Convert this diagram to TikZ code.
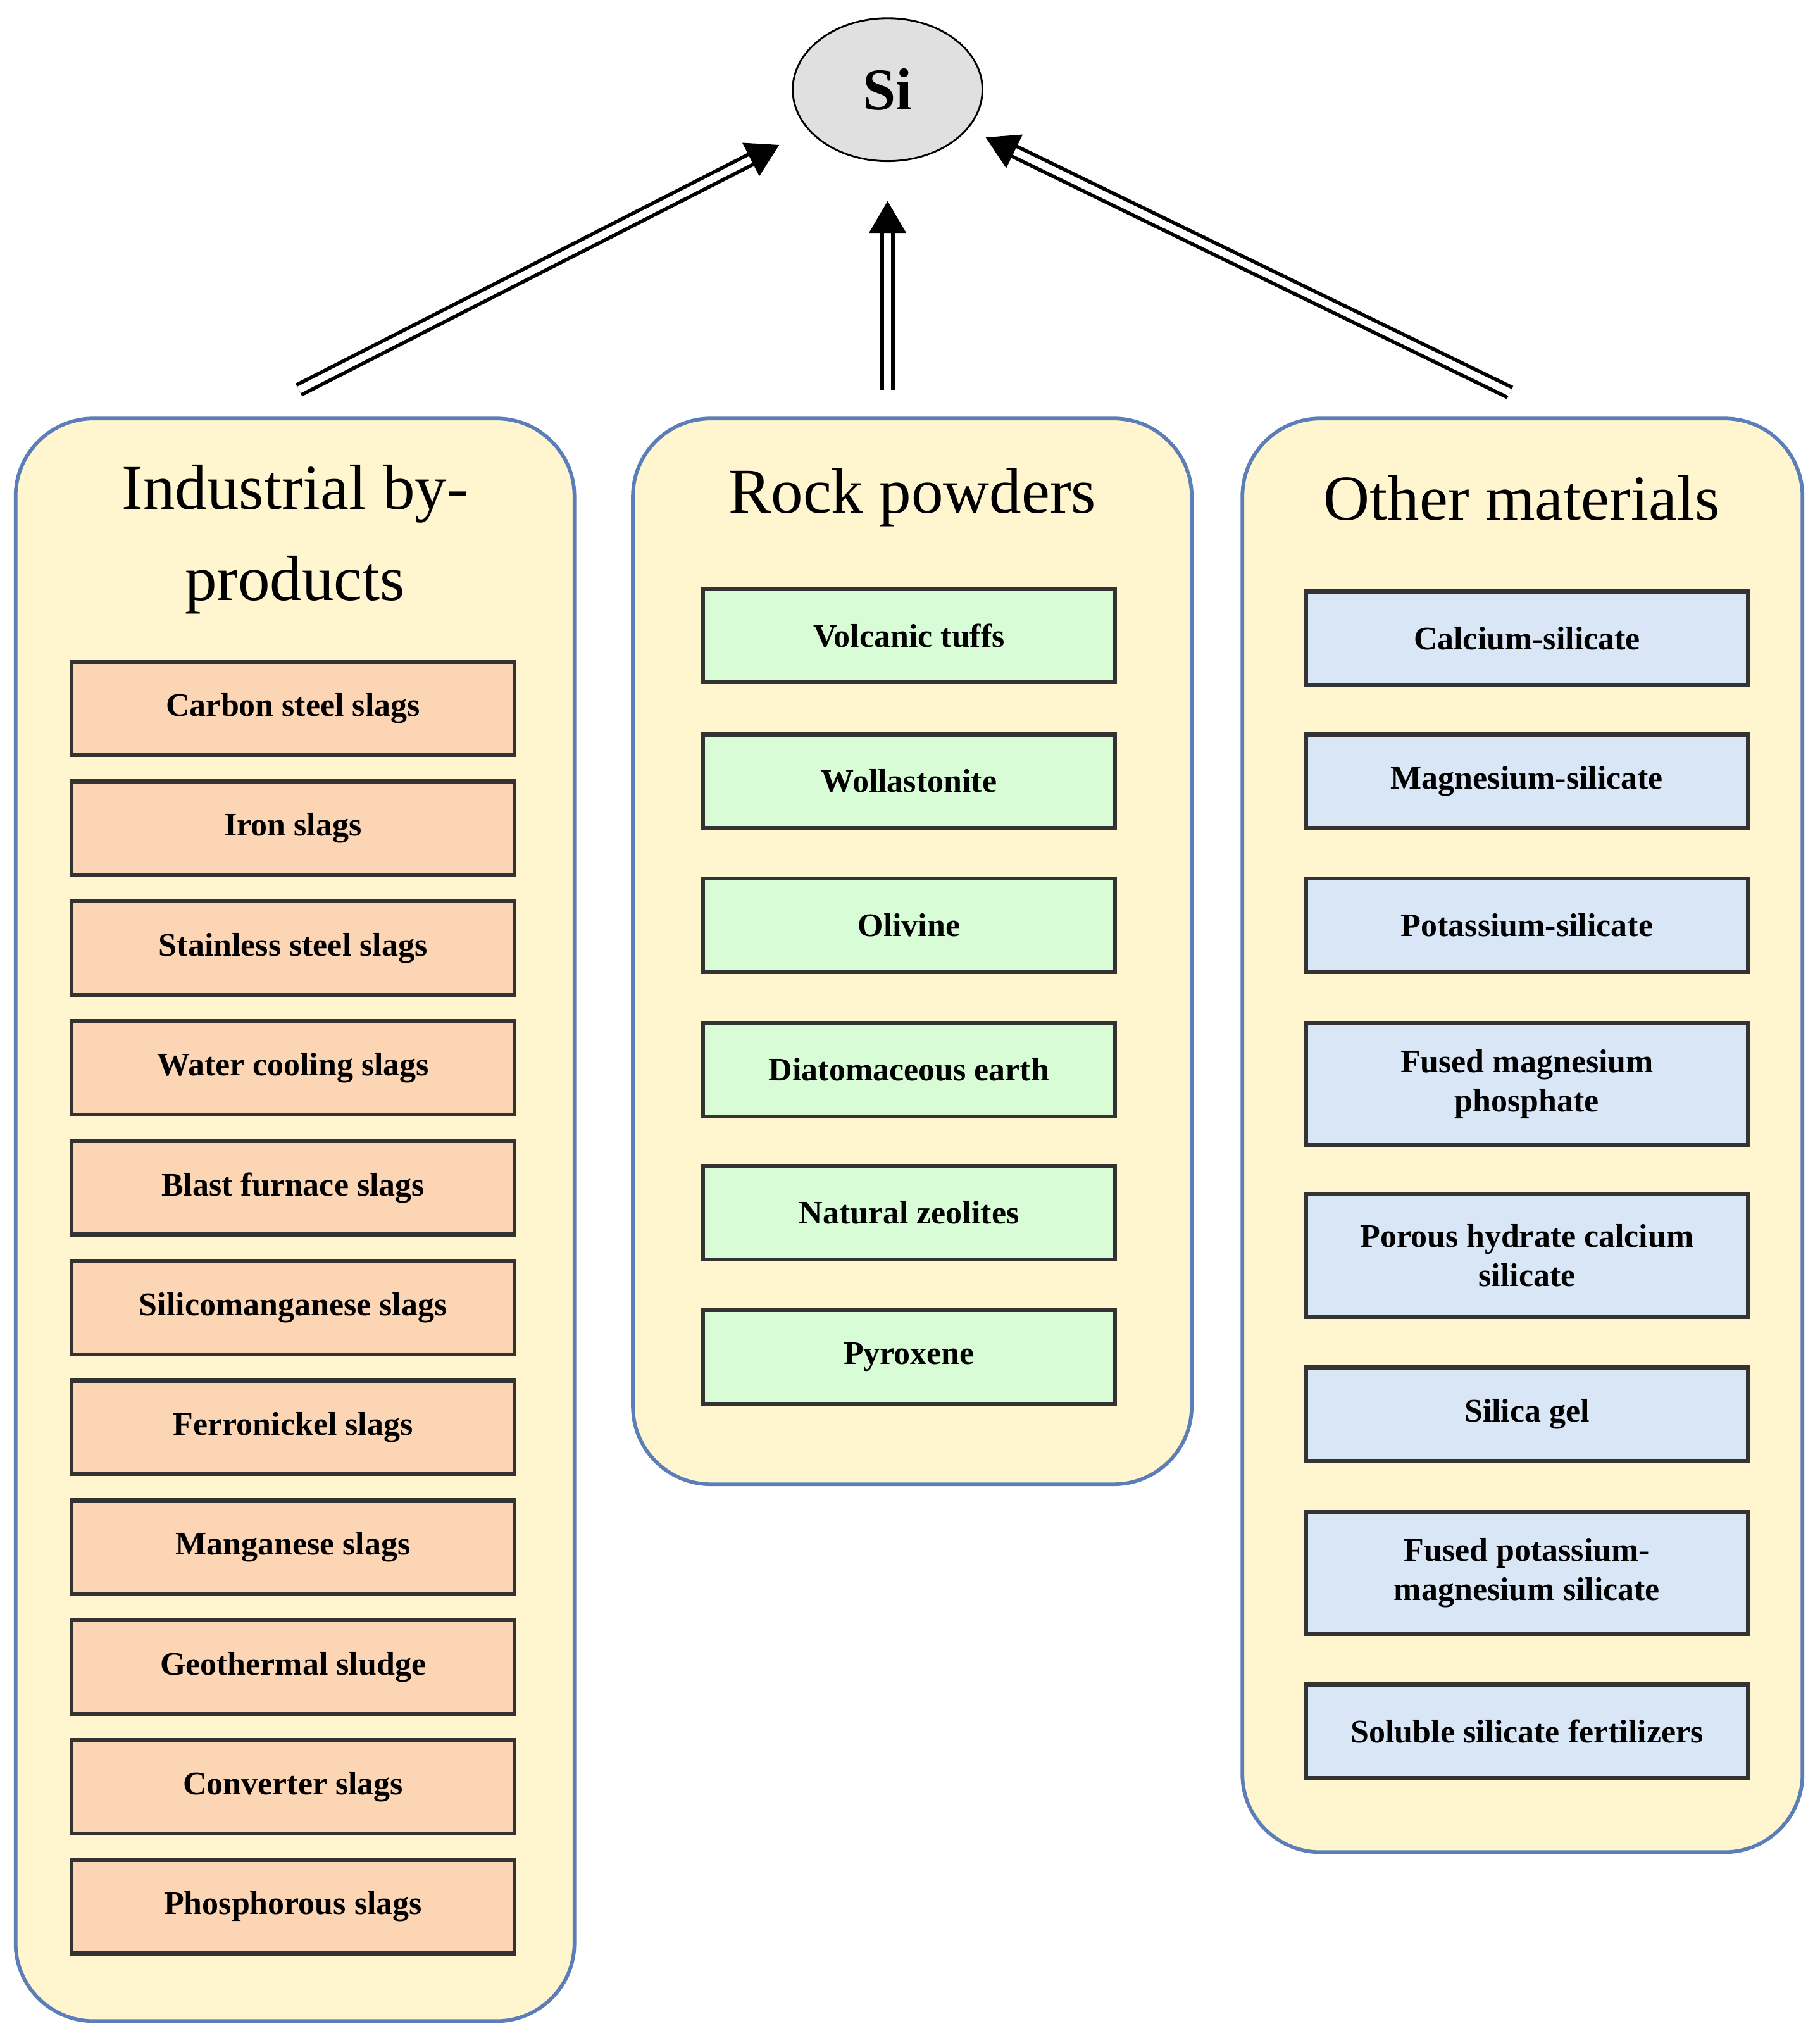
\documentclass[tikz,border=0pt]{standalone}
\usepackage{fontspec}
\setmainfont{Liberation Serif}
\usetikzlibrary{arrows.meta,positioning,shapes.geometric}
\definecolor{panelfill}{HTML}{FFF6CF}
\definecolor{paneldraw}{HTML}{5B7DB8}
\definecolor{slagfill}{HTML}{FCD5B5}
\definecolor{rockfill}{HTML}{D7FCD6}
\definecolor{otherfill}{HTML}{D9E6F5}
\tikzset{
  panel/.style={draw=paneldraw, fill=panelfill, rounded corners=0.6cm, line width=0.8pt},
  item/.style={draw=black!80, line width=0.9pt, minimum height=0.72cm, align=center,
    font=\fontsize{7.2}{8.6}\selectfont\bfseries},
  slag/.style={item, fill=slagfill, minimum width=3.41cm},
  rock/.style={item, fill=rockfill, minimum width=3.17cm},
  other/.style={item, fill=otherfill, minimum width=3.4cm},
  title/.style={align=center, font=\fontsize{14}{20}\selectfont},
  feed/.style={double, double distance=1.6pt, line width=0.8pt, -{Triangle[length=7pt,width=8pt]}}
}
\begin{document}
\begin{tikzpicture}
  \useasboundingbox (0,0) rectangle (14,-15.68);
  % source
  \node[draw, fill=black!12, ellipse, minimum width=1.46cm, minimum height=1.1cm,
    font=\fontsize{13}{15}\selectfont\bfseries] (si) at (6.83,-0.69) {Si};
  % panels
  \draw[panel] (0.12,-3.22) rectangle (4.42,-15.55);
  \draw[panel] (4.87,-3.22) rectangle (9.17,-11.42);
  \draw[panel] (9.56,-3.22) rectangle (13.87,-14.25);
  \node[title] (ind) at (2.27,-4.15) {Industrial by-\\products};
  \node[title] (rock) at (7.02,-3.83) {Rock powders};
  \node[title] (oth) at (11.71,-3.83) {Other materials};
  % industrial by-products
  \foreach \txt [count=\i] in {Carbon steel slags, Iron slags, Stainless steel slags,
      Water cooling slags, Blast furnace slags, Silicomanganese slags, Ferronickel slags,
      Manganese slags, Geothermal sludge, Converter slags, Phosphorous slags}
    \node[slag] (s\i) at (2.255,{-5.45-0.922*(\i-1)}) {\txt};
  % rock powders
  \foreach \txt/\y [count=\i] in {Volcanic tuffs/4.89, Wollastonite/6.01, Olivine/7.12,
      Diatomaceous earth/8.23, Natural zeolites/9.33, Pyroxene/10.44}
    \node[rock] (r\i) at (6.995,-\y) {\txt};
  % other materials
  \node[other] (o1) at (11.75,-4.91) {Calcium-silicate};
  \node[other] (o2) at (11.75,-6.01) {Magnesium-silicate};
  \node[other] (o3) at (11.75,-7.12) {Potassium-silicate};
  \node[other, minimum height=0.94cm] (o4) at (11.75,-8.34) {Fused magnesium\\phosphate};
  \node[other, minimum height=0.94cm] (o5) at (11.75,-9.66) {Porous hydrate calcium\\silicate};
  \node[other] (o6) at (11.75,-10.88) {Silica gel};
  \node[other, minimum height=0.94cm] (o7) at (11.75,-12.10) {Fused potassium-\\magnesium silicate};
  \node[other] (o8) at (11.75,-13.32) {Soluble silicate fertilizers};
  % arrows
  \coordinate (la) at (2.30,-3.00);
  \coordinate (ma) at (6.83,-3.00);
  \coordinate (ra) at (11.62,-3.02);
  \draw[feed, shorten >=0.25cm] (la) -- (si);
  \draw[feed, shorten >=0.3cm] (ma) -- (si);
  \draw[feed, shorten >=0.15cm] (ra) -- (si);
\end{tikzpicture}
\end{document}
